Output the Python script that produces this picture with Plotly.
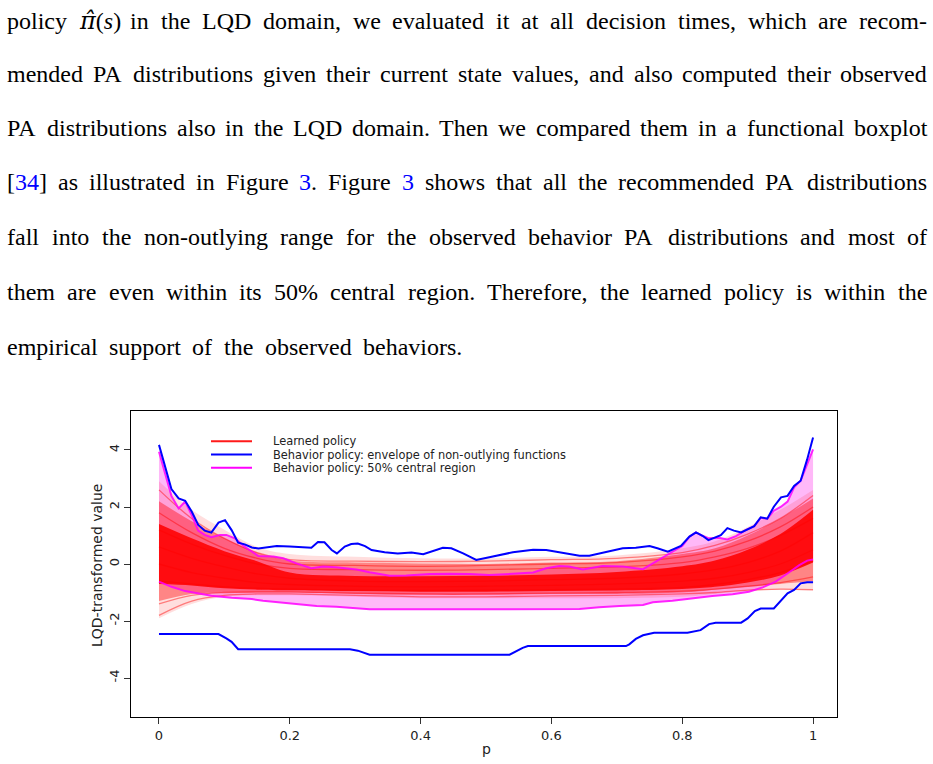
import plotly.graph_objects as go

# ---------------- data ----------------
blue_upper_x = [0, .010, .019, .030, .040, .050, .060, .070, .080, .091, .101, .111, .121, .131, .142, .152, .162, .180,
                .200, .215, .233, .243, .253, .264, .272, .284, .294, .304, .315, .325, .345, .365, .386, .404, .416, .434,
                .447, .465, .485, .495, .505, .541, .572, .592, .617, .643, .658, .684, .709, .729, .750, .762, .778, .798,
                .811, .821, .831, .840, .859, .869, .879, .890, .910, .920, .930, .940, .951, .961, .971, .981, .991, 1.0]
blue_upper_y = [4.18, 3.41, 2.63, 2.30, 2.22, 1.84, 1.37, 1.17, 1.10, 1.45, 1.54, 1.19, 0.75, 0.69, 0.58, 0.54, 0.57, 0.63,
                0.61, 0.60, 0.57, 0.77, 0.76, 0.49, 0.37, 0.61, 0.70, 0.72, 0.63, 0.49, 0.41, 0.37, 0.40, 0.34, 0.43, 0.57,
                0.55, 0.37, 0.14, 0.20, 0.24, 0.41, 0.50, 0.49, 0.40, 0.29, 0.29, 0.43, 0.55, 0.57, 0.63, 0.55, 0.43, 0.63,
                0.96, 1.11, 0.99, 0.84, 1.01, 1.26, 1.17, 1.11, 1.33, 1.64, 1.59, 2.01, 2.34, 2.39, 2.74, 2.92, 3.67, 4.44]

blue_lower_x = [0, .091, .103, .111, .121, .292, .304, .322, .536, .546, .556, .564, .714, .719, .729, .740, .757, .808,
                .828, .841, .851, .890, .900, .911, .920, .940, .951, .961, .971, .981, .991, 1.0]
blue_lower_y = [-2.46, -2.46, -2.61, -2.73, -2.99, -2.99, -3.04, -3.18, -3.18, -3.06, -2.94, -2.88, -2.88, -2.82, -2.63,
                -2.50, -2.41, -2.41, -2.32, -2.11, -2.06, -2.06, -1.91, -1.65, -1.56, -1.56, -1.29, -1.03, -0.91, -0.68,
                -0.64, -0.64]

mag_upper_x = [0, .009, .019, .030, .040, .050, .060, .070, .080, .093, .103, .116, .131, .152, .175, .190, .210, .233,
               .251, .271, .302, .322, .353, .378, .414, .444, .475, .505, .526, .572, .592, .612, .627, .648, .678, .709,
               .740, .760, .785, .800, .811, .821, .831, .841, .856, .869, .882, .897, .910, .920, .930, .940, .951, .961,
               .971, .981, .991, 1.0]
mag_upper_y = [3.94, 3.24, 2.39, 1.95, 2.19, 1.72, 1.17, 1.02, 0.94, 1.02, 1.02, 0.90, 0.61, 0.28, 0.26, 0.20, 0.02, -0.15,
               -0.09, -0.11, -0.19, -0.29, -0.41, -0.40, -0.35, -0.34, -0.35, -0.39, -0.36, -0.30, -0.15, -0.07, -0.09,
               -0.19, -0.07, -0.09, -0.18, 0.08, 0.43, 0.63, 0.96, 1.11, 0.99, 0.90, 0.92, 0.86, 0.98, 1.19, 1.33, 1.62,
               1.59, 1.87, 2.01, 2.19, 2.69, 2.92, 3.47, 4.02]

mag_lower_x = [0, .019, .040, .060, .080, .111, .142, .159, .182, .210, .241, .271, .322, .363, .465, .505, .643, .673,
               .704, .740, .755, .785, .816, .846, .877, .902, .923, .943, .963, .979, .991, 1.0]
mag_lower_y = [-0.62, -0.80, -0.95, -1.03, -1.11, -1.18, -1.23, -1.29, -1.34, -1.41, -1.47, -1.50, -1.59, -1.59, -1.59,
               -1.58, -1.58, -1.52, -1.47, -1.44, -1.34, -1.29, -1.20, -1.12, -1.06, -0.97, -0.82, -0.62, -0.30, -0.04,
               0.12, 0.16]

# learned policy: spread of the many red curves
red_x = [0, 0.05, 0.1, 0.15, 0.2, 0.3, 0.4, 0.5, 0.6, 0.7, 0.8, 0.85, 0.9, 0.95, 1.0]
red_faint_upper = [2.9, 1.9, 1.2, 0.6, 0.35, 0.25, 0.2, 0.2, 0.25, 0.3, 0.55, 0.8, 1.3, 1.9, 2.6]
red_faint_lower = [-1.9, -1.4, -1.15, -1.1, -1.1, -1.15, -1.2, -1.2, -1.2, -1.2, -1.15, -1.05, -0.95, -0.9, -0.95]
red_mid_upper = [2.2, 1.5, 0.9, 0.4, 0.12, 0.05, 0.02, 0.0, 0.05, 0.1, 0.35, 0.55, 1.0, 1.6, 2.3]
red_mid_lower = [-1.3, -1.05, -1.0, -1.0, -1.0, -1.05, -1.08, -1.08, -1.05, -1.05, -1.0, -0.9, -0.8, -0.7, -0.6]
red_core_upper = [1.4, 0.9, 0.45, 0.1, -0.3, -0.42, -0.43, -0.41, -0.37, -0.28, -0.08, 0.12, 0.5, 1.05, 1.9]
red_core_lower = [-0.7, -0.75, -0.85, -0.9, -0.92, -0.95, -0.97, -0.97, -0.95, -0.93, -0.88, -0.8, -0.65, -0.4, 0.05]
red_curve_1 = [2.6, 1.6, 0.9, 0.4, 0.15, 0.1, 0.08, 0.1, 0.15, 0.2, 0.4, 0.65, 1.05, 1.6, 2.4]
red_curve_2 = [1.8, 1.1, 0.55, 0.2, 0.0, -0.05, -0.08, -0.05, 0.0, 0.05, 0.25, 0.45, 0.8, 1.3, 2.0]
red_curve_3 = [1.2, 0.7, 0.3, 0.0, -0.15, -0.2, -0.22, -0.2, -0.15, -0.1, 0.05, 0.25, 0.55, 1.0, 1.6]
red_curve_4 = [0.6, 0.2, -0.1, -0.35, -0.5, -0.6, -0.62, -0.6, -0.55, -0.5, -0.35, -0.2, 0.05, 0.45, 1.1]
red_curve_5 = [0.0, -0.3, -0.5, -0.65, -0.72, -0.78, -0.8, -0.78, -0.75, -0.7, -0.6, -0.5, -0.3, 0.0, 0.5]
red_curve_6 = [-0.6, -0.7, -0.8, -0.85, -0.88, -0.92, -0.93, -0.92, -0.9, -0.88, -0.82, -0.72, -0.55, -0.3, 0.1]
red_curve_7 = [-1.4, -1.1, -1.0, -0.98, -0.98, -1.02, -1.05, -1.05, -1.02, -1.0, -0.95, -0.88, -0.78, -0.65, -0.45]
red_curve_8 = [-1.8, -1.3, -1.1, -1.05, -1.05, -1.1, -1.15, -1.15, -1.12, -1.1, -1.05, -1.0, -0.92, -0.88, -0.9]

x_tick_vals = [0, 0.2, 0.4, 0.6, 0.8, 1]
x_tick_text = ["0", "0.2", "0.4", "0.6", "0.8", "1"]
y_tick_vals = [-4, -2, 0, 2, 4]
y_tick_text = ["-4", "-2", "0", "2", "4"]

legend_labels = ["Learned policy",
                 "Behavior policy: envelope of non-outlying functions",
                 "Behavior policy: 50% central region"]
legend_colors = ["#ff1a1a", "#0000ff", "#ff00ff"]

x_title = "p"
y_title = "LQD-transformed value"

paragraph_lines = [
    "policy π̂(s) in the LQD domain, we evaluated it at all decision times, which are recom-",
    "mended PA distributions given their current state values, and also computed their observed",
    "PA distributions also in the LQD domain. Then we compared them in a functional boxplot",
    "[34] as illustrated in Figure 3. Figure 3 shows that all the recommended PA distributions",
    "fall into the non-outlying range for the observed behavior PA distributions and most of",
    "them are even within its 50% central region. Therefore, the learned policy is within the",
    "empirical support of the observed behaviors.",
]

# ---------------- layout helpers (pixel -> paper) ----------------
W, H = 933, 764
def PX(x):
    return x / W
def PY(y):
    return 1 - y / H

LINK = "#0000ff"
HAT_WORD = "π̂(s)"
display_words = {
    HAT_WORD: "<span style='font-family:DejaVu Serif'><i>π̂</i></span>(<i>s</i>)",
    "[34]": "[<span style='color:%s'>34</span>]" % LINK,
    "3.": "<span style='color:%s'>3</span>." % LINK,
    "3": "<span style='color:%s'>3</span>" % LINK,
}

TIMES = {' ': 250, '%': 833, '(': 333, ')': 333, ',': 250, '-': 333, '.': 250, ':': 278, '[': 333, ']': 333,
         'A': 722, 'B': 667, 'C': 667, 'D': 722, 'E': 611, 'F': 556, 'G': 722, 'H': 722, 'I': 333, 'J': 389,
         'K': 722, 'L': 611, 'M': 889, 'N': 722, 'O': 722, 'P': 556, 'Q': 722, 'R': 667, 'S': 556, 'T': 611,
         'U': 722, 'V': 722, 'W': 944, 'X': 722, 'Y': 722, 'Z': 611,
         'a': 444, 'b': 500, 'c': 444, 'd': 500, 'e': 444, 'f': 333, 'g': 500, 'h': 500, 'i': 278, 'j': 278,
         'k': 500, 'l': 278, 'm': 778, 'n': 500, 'o': 500, 'p': 500, 'q': 500, 'r': 333, 's': 389, 't': 278,
         'u': 500, 'v': 500, 'w': 722, 'x': 500, 'y': 500, 'z': 444, 'π': 600, '\u0302': 0}

def text_width(s, size):
    return sum(TIMES.get(c, 500) for c in s) / 1000.0 * size

FS = 24
line_y = [21, 74, 128, 182, 237, 292, 347]
line_right = [926, 926, 926, 926, 926, 926, 461]
left_x = 6

annotations = []
for k, line in enumerate(paragraph_lines):
    words = line.split(" ")
    widths = [text_width(w, FS) for w in words]
    gap = (line_right[k] - left_x - sum(widths)) / (len(words) - 1)
    x = left_x
    for w, wd in zip(words, widths):
        disp = display_words.get(w, w) if (k == 3 or w == HAT_WORD) else w
        annotations.append(dict(x=PX(x), y=PY(line_y[k]), xref="paper", yref="paper", text=disp,
                                showarrow=False, xanchor="left", yanchor="middle", borderpad=0,
                                font=dict(family="Liberation Serif", size=FS, color="black")))
        x += wd + gap

# axis titles
annotations.append(dict(x=PX(487), y=PY(749), xref="paper", yref="paper", text=x_title, showarrow=False,
                        xanchor="center", yanchor="middle", font=dict(family="DejaVu Sans", size=14, color="#222")))
annotations.append(dict(x=PX(97), y=PY(566), xref="paper", yref="paper", text=y_title, showarrow=False,
                        textangle=-90, xanchor="center", yanchor="middle",
                        font=dict(family="DejaVu Sans", size=14, color="#222")))

# legend (drawn inside the plot area)
shapes = []
leg_y = [441.2, 454.5, 467.8]
for lab, col, yy in zip(legend_labels, legend_colors, leg_y):
    shapes.append(dict(type="line", xref="paper", yref="paper", x0=PX(211), x1=PX(252), y0=PY(yy), y1=PY(yy),
                       line=dict(color=col, width=2)))
    annotations.append(dict(x=PX(272), y=PY(yy), xref="paper", yref="paper", text=lab, showarrow=False,
                            xanchor="left", yanchor="middle", borderpad=0,
                            font=dict(family="DejaVu Sans", size=11.4, color="#222")))

# ---------------- traces ----------------
fig = go.Figure()

# 50% central region fill
fig.add_trace(go.Scatter(x=mag_lower_x, y=mag_lower_y, mode="lines", line=dict(width=0), hoverinfo="skip",
                         showlegend=False))
fig.add_trace(go.Scatter(x=mag_upper_x, y=mag_upper_y, mode="lines", line=dict(width=0), fill="tonexty",
                         fillcolor="rgb(255,184,248)", hoverinfo="skip", showlegend=False))

# learned policy curves (bands of densely overlapping red lines)
for lo, up, col in [(red_faint_lower, red_faint_upper, "rgba(255,0,0,0.13)"),
                    (red_mid_lower, red_mid_upper, "rgba(255,0,0,0.40)"),
                    (red_core_lower, red_core_upper, "rgba(255,0,0,0.88)")]:
    fig.add_trace(go.Scatter(x=red_x, y=lo, mode="lines", line=dict(width=0, shape="spline"),
                             hoverinfo="skip", showlegend=False))
    fig.add_trace(go.Scatter(x=red_x, y=up, mode="lines", line=dict(width=0, shape="spline"), fill="tonexty",
                             fillcolor=col, hoverinfo="skip", showlegend=False))
for c in [red_curve_1, red_curve_2, red_curve_3, red_curve_4, red_curve_5, red_curve_6, red_curve_7, red_curve_8]:
    fig.add_trace(go.Scatter(x=red_x, y=c, mode="lines", line=dict(width=1.3, color="rgba(255,0,0,0.45)",
                                                                   shape="spline"),
                             hoverinfo="skip", showlegend=False))

# 50% region boundaries
for xs, ys in [(mag_upper_x, mag_upper_y), (mag_lower_x, mag_lower_y)]:
    fig.add_trace(go.Scatter(x=xs, y=ys, mode="lines", line=dict(width=2, color="rgba(255,0,255,0.85)"),
                             hoverinfo="skip", showlegend=False))
# envelope of non-outlying functions
for xs, ys in [(blue_upper_x, blue_upper_y), (blue_lower_x, blue_lower_y)]:
    fig.add_trace(go.Scatter(x=xs, y=ys, mode="lines", line=dict(width=2, color="#0000ff"),
                             hoverinfo="skip", showlegend=False))

axis_common = dict(showline=True, linecolor="black", linewidth=1, mirror=True, ticks="outside", ticklen=6,
                   tickcolor="#333", tickwidth=1, showgrid=False, zeroline=False,
                   tickfont=dict(family="DejaVu Sans", size=13, color="#222"))

fig.update_layout(
    width=W, height=H, autosize=False,
    margin=dict(l=0, r=0, t=0, b=0),
    paper_bgcolor="white", plot_bgcolor="white",
    showlegend=False,
    xaxis=dict(domain=[PX(131), PX(837)], range=[-0.0428, 1.0366], tickvals=x_tick_vals, ticktext=x_tick_text,
               **axis_common),
    yaxis=dict(domain=[PY(717), PY(411)], range=[-5.368, 5.368], tickvals=y_tick_vals, ticktext=y_tick_text,
               tickangle=-90, **axis_common),
    annotations=annotations,
    shapes=shapes,
)

fig.write_html("out.html")
